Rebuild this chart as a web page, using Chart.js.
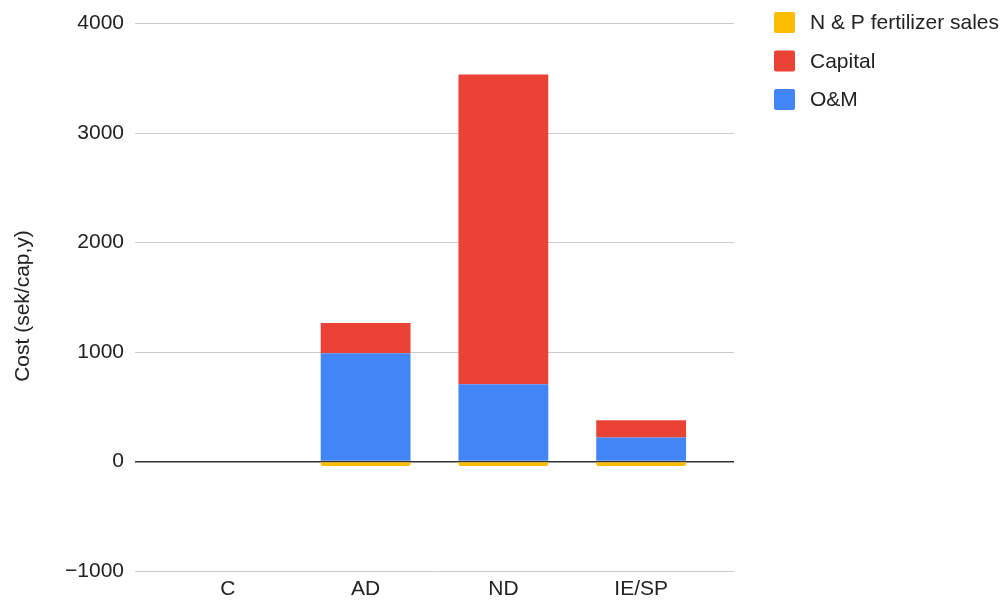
<!DOCTYPE html>
<html>
<head>
<meta charset="utf-8">
<script src="https://cdn.jsdelivr.net/npm/chart.js@4.4.1/dist/chart.umd.min.js"></script>
<style>
  html, body { margin: 0; padding: 0; background: #fff; }
  #wrap { width: 1003px; height: 603px; position: relative; }
</style>
</head>
<body>
<div id="wrap"><canvas id="c" width="1003" height="603"></canvas></div>
<script>
// Treatment options and their annual costs per capita (SEK)
const categories = ['C', 'AD', 'ND', 'IE/SP'];
const omCosts = [0, 990, 705, 220];
const capitalCosts = [0, 275, 2830, 158];
const fertilizerSales = [0, -40, -40, -40];
const yTicks = [-1000, 0, 1000, 2000, 3000, 4000];
const yTitle = 'Cost (sek/cap,y)';

const FONT = '"Liberation Sans", Arial, Helvetica, sans-serif';
const FONT_SIZE = 21;

const toPoints = arr => arr.map((v, i) => ({ x: i, y: v }));

// Legend listed top to bottom beside the plot, plus the rotated axis title
const sideLegend = {
  id: 'sideLegend',
  afterDraw(chart) {
    const ctx = chart.ctx;
    const items = chart.data.datasets.slice().reverse();
    ctx.save();
    ctx.font = FONT_SIZE + 'px ' + FONT;
    ctx.textBaseline = 'middle';
    items.forEach((ds, i) => {
      const cy = 22.5 + i * 38.5;
      ctx.fillStyle = ds.backgroundColor;
      ctx.beginPath();
      ctx.roundRect(774, cy - 10.5, 21, 21, 2);
      ctx.fill();
      ctx.fillStyle = '#222';
      ctx.fillText(ds.label, 810, cy + 1);
    });
    // y axis title
    ctx.translate(23, 306);
    ctx.rotate(-Math.PI / 2);
    ctx.textAlign = 'center';
    ctx.fillStyle = '#222';
    ctx.fillText(yTitle, 0, 0);
    ctx.restore();
  }
};

new Chart(document.getElementById('c'), {
  type: 'bar',
  data: {
    datasets: [
      { label: 'O&M', data: toPoints(omCosts), backgroundColor: '#4285F4' },
      { label: 'Capital', data: toPoints(capitalCosts), backgroundColor: '#EA4335' },
      { label: 'N & P fertilizer sales', data: toPoints(fertilizerSales), backgroundColor: '#FBBC04',
        borderRadius: { bottomLeft: 3, bottomRight: 3, topLeft: 0, topRight: 0 }, borderSkipped: false }
    ]
  },
  options: {
    responsive: false,
    animation: false,
    layout: { padding: { top: 22, right: 269, bottom: 0, left: 0 } },
    datasets: { bar: { categoryPercentage: 1.0, barPercentage: 0.652 } },
    plugins: { legend: { display: false }, tooltip: { enabled: false } },
    scales: {
      x: {
        type: 'linear',
        stacked: true,
        offset: false,
        min: -0.674,
        max: 3.674,
        afterFit(scale) { scale.height = 32; },
        grid: { display: false },
        border: { display: false },
        ticks: {
          stepSize: 1,
          includeBounds: false,
          autoSkip: false,
          maxRotation: 0,
          padding: -2,
          color: '#222',
          font: { family: FONT, size: FONT_SIZE },
          callback: v => (Number.isInteger(v) && categories[v] !== undefined) ? categories[v] : ''
        }
      },
      y: {
        stacked: true,
        min: yTicks[0],
        max: yTicks[yTicks.length - 1],
        afterFit(scale) { scale.width = 135; },
        afterBuildTicks(scale) { scale.ticks = yTicks.map(v => ({ value: v })); },
        border: { display: false },
        grid: {
          drawTicks: false,
          color: ctx => ctx.tick && ctx.tick.value === 0 ? '#333' : '#cccccc',
          lineWidth: ctx => ctx.tick && ctx.tick.value === 0 ? 1.5 : 1
        },
        ticks: {
          padding: 11,
          color: '#222',
          font: { family: FONT, size: FONT_SIZE },
          callback: v => v < 0 ? '\u2212' + Math.abs(v) : String(v)
        }
      }
    }
  },
  plugins: [sideLegend]
});
</script>
</body>
</html>
